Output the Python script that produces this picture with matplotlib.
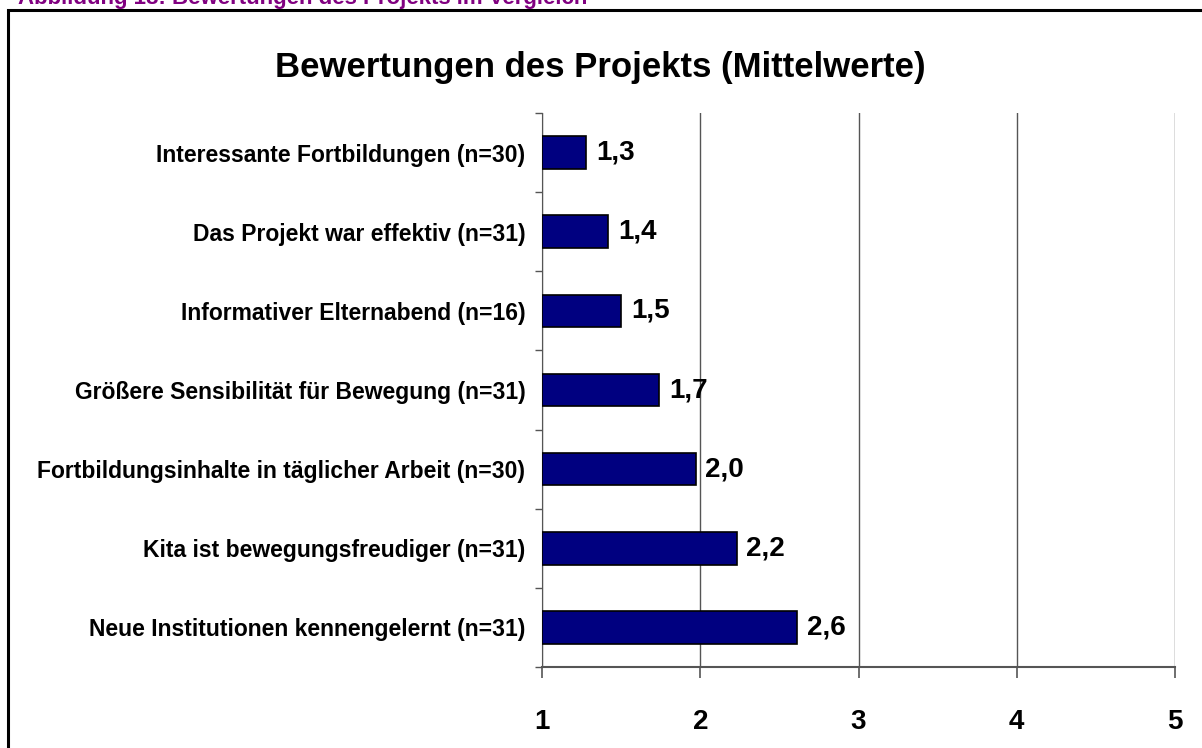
import matplotlib
matplotlib.use('Agg')
import matplotlib.pyplot as plt
from matplotlib.patches import Rectangle

plt.rcParams['font.family'] = ['Liberation Sans', 'DejaVu Sans']

categories = [
    "Interessante Fortbildungen (n=30)",
    "Das Projekt war effektiv (n=31)",
    "Informativer Elternabend (n=16)",
    "Größere Sensibilität für Bewegung (n=31)",
    "Fortbildungsinhalte in täglicher Arbeit (n=30)",
    "Kita ist bewegungsfreudiger (n=31)",
    "Neue Institutionen kennengelernt (n=31)",
]
values = [1.28, 1.42, 1.50, 1.74, 1.97, 2.23, 2.61]
value_labels = ["1,3", "1,4", "1,5", "1,7", "2,0", "2,2", "2,6"]
x_ticks = [1, 2, 3, 4, 5]

W, H = 1202, 748
fig = plt.figure(figsize=(W / 100, H / 100), dpi=100)
ax = fig.add_axes([542 / W, 1 - 667 / H, (1175 - 542) / W, (667 - 113) / H])

ypos = range(len(categories))
left = x_ticks[0]
ax.barh(ypos, [v - left for v in values], left=left, height=0.41,
        color='#000080', edgecolor='black', linewidth=1.2, zorder=3)
for y, v, lab in zip(ypos, values, value_labels):
    ax.annotate(lab, (v, y), xytext=(7, 0), textcoords='offset points',
                va='center', ha='left', fontsize=20, fontweight='bold', zorder=4)

ax.set_xlim(x_ticks[0], x_ticks[-1])
ax.set_ylim(len(categories) - 0.5, -0.5)
ax.set_xticks(x_ticks)
ax.set_xticklabels([str(t) for t in x_ticks], fontsize=20, fontweight='bold')
ax.set_yticks(list(ypos))
ax.set_yticklabels(categories, fontsize=16.5, fontweight='bold')
ax.set_yticks([i - 0.5 for i in range(len(categories) + 1)], minor=True)
ax.tick_params(axis='y', which='major', length=0, pad=12)
ax.tick_params(axis='y', which='minor', length=5, color='#555555', width=1)
ax.tick_params(axis='x', length=8, color='#555555', width=1.2, pad=22)

ax.grid(axis='x', color='#555555', linewidth=1, zorder=0)
for s in ['top', 'right']:
    ax.spines[s].set_visible(False)
ax.spines['left'].set_color('#555555')
ax.spines['bottom'].set_color('#555555')
ax.spines['bottom'].set_linewidth(1.5)

fig.text(600 / W, 1 - 67 / H, "Bewertungen des Projekts (Mittelwerte)",
         ha='center', va='center', fontsize=25, fontweight='bold')
fig.text(18 / W, 1 - 4 / H, "Abbildung 18: Bewertungen des Projekts im Vergleich",
         ha='left', va='baseline', fontsize=16, fontweight='bold', color='#800080')

fig.patches.append(Rectangle((8 / W, -0.05), 1.2, 1 - 10 / H + 0.05,
                             transform=fig.transFigure, fill=False,
                             edgecolor='black', linewidth=2.2))

fig.savefig('out.png', dpi=100)
